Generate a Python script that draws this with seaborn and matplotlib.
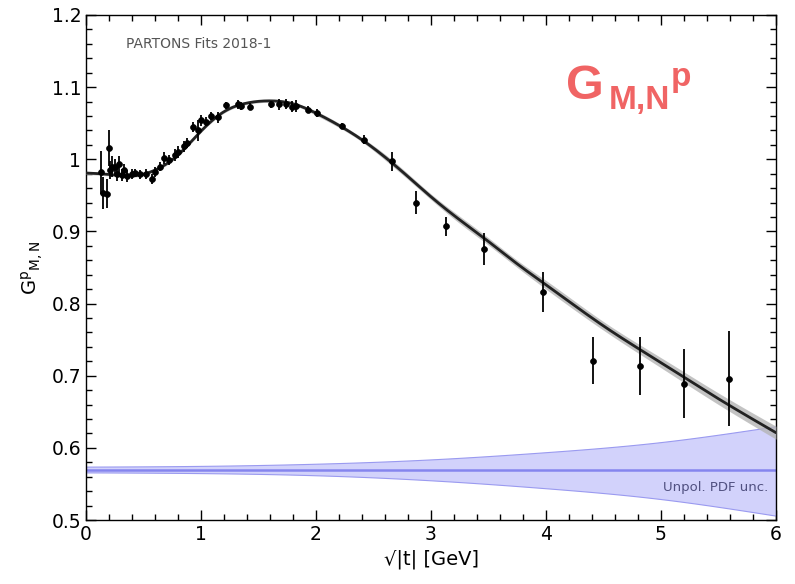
import numpy as np
import pandas as pd
import matplotlib
matplotlib.use("Agg")
import matplotlib.pyplot as plt
from matplotlib.ticker import MultipleLocator, FuncFormatter
import seaborn as sns

# ---- data ----
curve_x = [0.0, 0.2, 0.4, 0.6, 0.8, 1.0, 1.2, 1.4, 1.6, 1.8, 2.0, 2.2, 2.4, 2.6,
           2.8, 3.0, 3.25, 3.5, 3.75, 4.0, 4.5, 5.0, 5.5, 6.0]
curve_y = [0.981, 0.979, 0.977, 0.985, 1.006, 1.039, 1.066, 1.078, 1.081, 1.077,
           1.064, 1.047, 1.027, 1.003, 0.976, 0.948, 0.916, 0.886, 0.855, 0.826,
           0.769, 0.718, 0.668, 0.621]
curve_err = [0.002, 0.002, 0.002, 0.002, 0.002, 0.002, 0.002, 0.002, 0.002, 0.002,
             0.003, 0.003, 0.003, 0.004, 0.004, 0.004, 0.005, 0.005, 0.005, 0.006,
             0.006, 0.007, 0.008, 0.009]

pdf_x = [0.0, 1.0, 2.0, 3.0, 4.0, 5.0, 6.0]
pdf_center = [0.570, 0.570, 0.570, 0.570, 0.570, 0.570, 0.570]
pdf_up = [0.004, 0.005, 0.008, 0.014, 0.024, 0.038, 0.060]
pdf_dn = [0.004, 0.005, 0.008, 0.015, 0.026, 0.041, 0.064]

data_x = [0.13, 0.15, 0.18, 0.20, 0.21, 0.23, 0.25, 0.27, 0.29, 0.31, 0.33, 0.36,
          0.40, 0.43, 0.47, 0.52, 0.57, 0.60, 0.64, 0.68, 0.72, 0.77, 0.80, 0.85,
          0.88, 0.93, 0.97, 1.00, 1.04, 1.09, 1.15, 1.22, 1.32, 1.35, 1.43, 1.61,
          1.68, 1.74, 1.79, 1.83, 1.93, 2.01, 2.23, 2.42, 2.66, 2.87, 3.13, 3.46,
          3.97, 4.41, 4.82, 5.20, 5.59]
data_y = [0.982, 0.953, 0.952, 1.016, 0.985, 0.990, 0.990, 0.980, 0.993, 0.978,
          0.985, 0.977, 0.979, 0.981, 0.979, 0.980, 0.973, 0.983, 0.990, 1.002,
          0.999, 1.006, 1.010, 1.018, 1.022, 1.045, 1.040, 1.054, 1.052, 1.060,
          1.058, 1.075, 1.076, 1.074, 1.073, 1.076, 1.076, 1.077, 1.073, 1.074,
          1.069, 1.064, 1.046, 1.027, 0.997, 0.940, 0.907, 0.876, 0.816, 0.721,
          0.713, 0.689, 0.696]
data_err = [0.030, 0.022, 0.020, 0.025, 0.012, 0.015, 0.010, 0.010, 0.012, 0.008,
            0.008, 0.008, 0.007, 0.006, 0.006, 0.007, 0.007, 0.007, 0.006, 0.008,
            0.007, 0.008, 0.008, 0.008, 0.007, 0.007, 0.015, 0.008, 0.006, 0.006,
            0.008, 0.005, 0.006, 0.006, 0.005, 0.005, 0.007, 0.007, 0.008, 0.008,
            0.005, 0.006, 0.004, 0.006, 0.013, 0.016, 0.013, 0.022, 0.028, 0.033,
            0.040, 0.048, 0.066]

x_ticks = [0, 1, 2, 3, 4, 5, 6]
y_ticks = [0.5, 0.6, 0.7, 0.8, 0.9, 1.0, 1.1, 1.2]


def natural_spline(x, y, xn):
    """Natural cubic spline through the given knots, evaluated at xn."""
    x = np.asarray(x, float); y = np.asarray(y, float)
    n = len(x)
    h = np.diff(x)
    A = np.zeros((n, n)); b = np.zeros(n)
    A[0, 0] = A[-1, -1] = 1.0
    for i in range(1, n - 1):
        A[i, i - 1] = h[i - 1]
        A[i, i] = 2 * (h[i - 1] + h[i])
        A[i, i + 1] = h[i]
        b[i] = 3 * ((y[i + 1] - y[i]) / h[i] - (y[i] - y[i - 1]) / h[i - 1])
    c = np.linalg.solve(A, b)
    bb = (y[1:] - y[:-1]) / h - h * (2 * c[:-1] + c[1:]) / 3
    d = (c[1:] - c[:-1]) / (3 * h)
    idx = np.clip(np.searchsorted(x, xn) - 1, 0, n - 2)
    dx = xn - x[idx]
    return y[idx] + bb[idx] * dx + c[idx] * dx ** 2 + d[idx] * dx ** 3


# ---- style ----
sns.set_style("ticks")
plt.rcParams['font.family'] = ['DejaVu Sans']
plt.rcParams['mathtext.fontset'] = 'dejavusans'
plt.rcParams['text.color'] = 'black'
plt.rcParams['axes.labelcolor'] = 'black'
plt.rcParams['xtick.color'] = 'black'
plt.rcParams['ytick.color'] = 'black'
plt.rcParams['axes.edgecolor'] = 'black'

fig = plt.figure(figsize=(7.95, 5.84), dpi=100)
ax = fig.add_axes([86/795, 64/584, 690/795, 505/584])

# PDF uncertainty band
xs = np.linspace(0, 6, 300)
c_i = natural_spline(pdf_x, pdf_center, xs)
up_i = c_i + natural_spline(pdf_x, pdf_up, xs)
dn_i = c_i - natural_spline(pdf_x, pdf_dn, xs)
ax.fill_between(xs, dn_i, up_i, facecolor="#d2d2fb", edgecolor="#9a9af0", linewidth=0.8, zorder=1)
pdf_df = pd.DataFrame({"x": pdf_x, "c": pdf_center})
sns.lineplot(data=pdf_df, x="x", y="c", ax=ax, color="#8585ee", linewidth=1.8, zorder=2)

# fit curve with band
xf = np.linspace(0, 6, 400)
yf = natural_spline(curve_x, curve_y, xf)
ef = natural_spline(curve_x, curve_err, xf)
ax.fill_between(xf, yf - ef, yf + ef, color="#b5b5b5", alpha=0.8, linewidth=0, zorder=3)
smooth = pd.DataFrame({"x": xf, "y": yf})
sns.lineplot(data=smooth, x="x", y="y", ax=ax, color="#222222", linewidth=2.0, zorder=4)

# data points
ddf = pd.DataFrame({"x": data_x, "y": data_y, "e": data_err})
ax.errorbar(ddf.x, ddf.y, yerr=ddf.e, fmt="none", ecolor="black", elinewidth=1.3,
            capsize=0, zorder=5)
sns.scatterplot(data=ddf, x="x", y="y", ax=ax, color="black", s=18, edgecolor="black",
                linewidth=0.5, zorder=6)

ax.set_xlim(0, 6)
ax.set_ylim(0.5, 1.2)
ax.set_xticks(x_ticks)
ax.set_yticks(y_ticks)
ax.xaxis.set_minor_locator(MultipleLocator(0.2))
ax.yaxis.set_minor_locator(MultipleLocator(0.02))
ax.yaxis.set_major_formatter(FuncFormatter(lambda v, p: "1" if abs(v - 1) < 1e-9 else f"{v:.1f}"))
ax.tick_params(which="both", direction="in", top=True, right=True, labelsize=13.5)
ax.tick_params(which="major", length=7, width=1)
ax.tick_params(which="minor", length=4, width=1)
for sp in ax.spines.values():
    sp.set_linewidth(1.0)

ax.set_xlabel("√|t| [GeV]", fontsize=14)
ax.set_ylabel(r"$\mathregular{G^{p}{}_{M,N}}$", fontsize=14, labelpad=5)

ax.text(0.35, 1.16, "PARTONS Fits 2018-1", fontsize=10, color="#555555", va="center")
ax.text(5.93, 0.545, "Unpol. PDF unc.", fontsize=9.5, color="#505080", ha="right", va="center")

# big red label, pieces placed in figure pixels
red = "#f06464"
lab = dict(color=red, fontfamily="Liberation Sans", fontweight="bold", va="baseline")
fig.text(566/795, (584-99)/584, "G", fontsize=35, **lab)
fig.text(609/795, (584-109)/584, "M,N", fontsize=24, **lab)
fig.text(671/795, (584-86)/584, "p", fontsize=24, **lab)

fig.savefig("out.png", dpi=100)
